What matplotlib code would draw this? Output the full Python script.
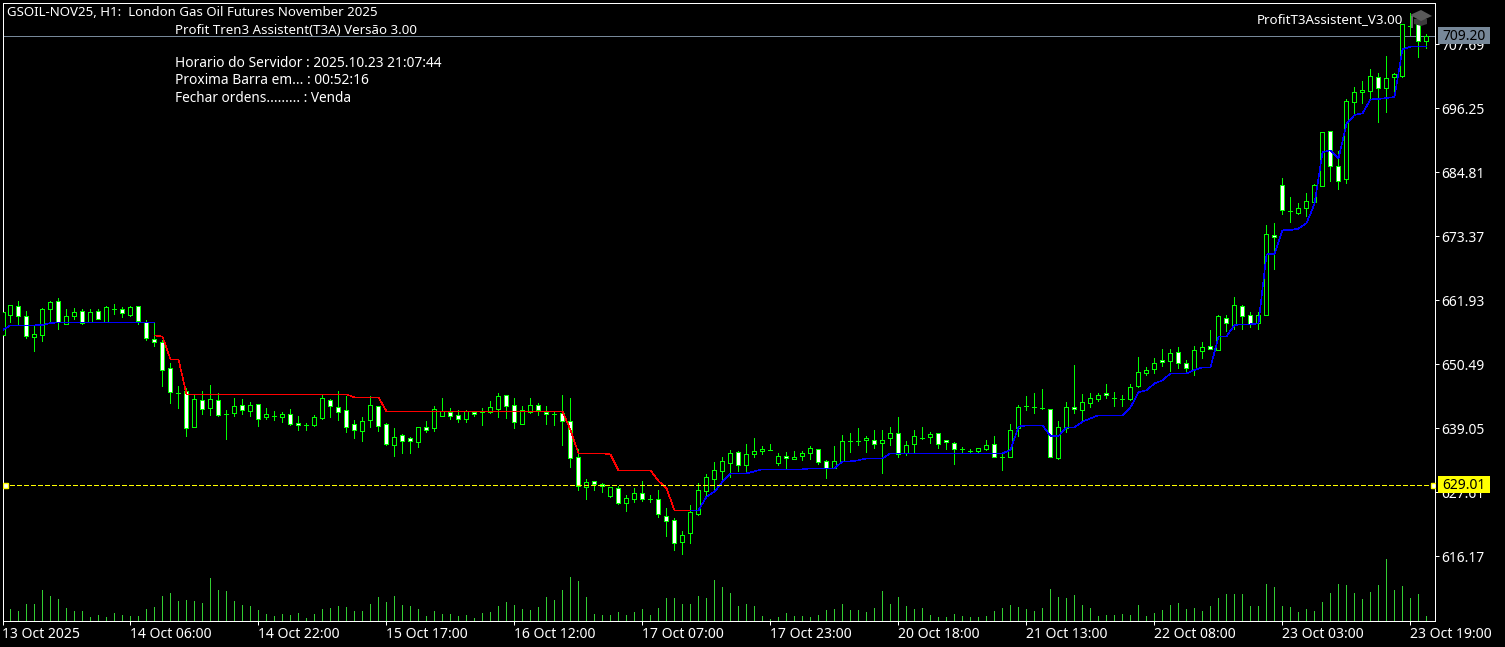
import matplotlib
matplotlib.use("Agg")
import matplotlib.pyplot as plt
from matplotlib.patches import Polygon, Rectangle
from matplotlib.transforms import Affine2D, IdentityTransform
import numpy as np

W, H = 1505, 647
PX = 0.72  # one pixel in points at dpi 100
FONT = "Noto Sans"

opens = [655.75,659.38,660.87,659.09,655.45,655.81,660.46,661.77,657.77,659.09,
         659.98,658.13,659.98,658.01,660.43,660.34,659.38,660.87,658.01,655.09,
         654.44,649.79,645.41,645.68,639.36,644.07,642.76,644.07,641.66,641.87,
         643.17,642.10,643.35,641.03,641.30,641.03,641.57,639.96,639.63,639.60,
         640.85,644.07,642.82,642.28,639.78,638.53,640.49,642.99,639.78,636.02,
         637.81,637.28,636.56,639.24,639.06,641.21,641.92,641.39,640.67,642.04,
         641.95,641.92,642.46,644.96,643.17,639.90,641.92,643.17,641.92,641.65,
         641.74,640.31,633.88,628.52,629.59,629.05,626.91,628.34,625.66,626.37,
         627.44,626.46,626.37,623.33,622.62,618.68,620.29,623.69,627.80,629.95,
         631.38,632.81,634.78,632.45,634.42,634.95,635.25,632.81,634.06,633.53,
         634.06,634.60,635.31,633.17,631.92,633.17,636.83,636.86,636.92,636.92,
         636.38,637.28,638.17,634.72,636.21,637.40,637.46,638.17,636.92,636.38,
         635.34,635.07,635.07,635.43,636.21,633.97,634.00,639.06,643.12,642.88,
         642.70,642.46,633.82,639.06,642.96,642.28,643.53,644.25,645.32,644.49,
         644.31,644.25,646.57,648.89,649.61,651.22,651.04,652.65,650.68,649.61,
         652.83,653.72,653.01,658.73,657.47,660.88,659.27,657.84,659.27,673.57,
         682.50,677.86,677.50,678.39,679.47,682.32,692.16,685.90,683.58,697.34,
         699.13,699.31,701.81,699.84,701.81,702.11,710.92,711.28,708.24]

highs = [659.80,661.05,661.77,659.98,657.42,660.52,661.77,662.30,660.34,660.52,
         660.34,660.34,660.34,660.87,661.29,660.69,660.87,660.87,658.37,657.95,
         654.80,650.68,646.57,646.22,644.97,645.68,646.75,645.32,642.28,644.43,
         644.25,643.71,643.35,642.64,642.10,641.92,642.46,641.21,639.96,641.39,
         644.96,644.25,645.68,644.78,640.49,641.03,644.78,642.99,639.96,639.06,
         637.99,637.46,639.24,640.31,642.99,644.43,642.64,642.28,642.28,642.10,
         642.64,643.89,645.32,644.96,644.42,642.99,644.42,643.53,642.99,641.92,
         644.96,644.42,635.31,629.95,629.59,629.23,628.52,628.69,627.09,628.34,
         629.59,627.09,627.98,624.76,622.97,620.65,625.30,629.23,630.84,632.98,
         633.88,635.13,634.95,636.21,637.28,635.85,636.21,634.60,634.78,634.95,
         634.95,635.85,635.31,633.35,635.85,637.81,638.17,639.07,637.64,638.71,
         638.71,639.24,641.03,636.74,638.71,639.24,638.35,638.17,636.92,636.56,
         635.79,635.43,635.61,637.04,637.75,634.89,639.90,643.18,644.78,645.32,
         646.04,642.46,640.32,643.71,650.32,645.14,645.32,645.32,646.93,645.50,
         644.96,646.93,651.76,649.97,651.58,653.19,653.19,653.54,651.22,653.72,
         654.44,656.58,659.26,659.26,662.48,661.06,659.80,659.80,675.35,675.71,
         683.75,680.36,679.29,681.07,682.68,691.98,692.16,688.58,697.87,700.02,
         701.09,703.24,702.52,705.56,702.52,711.28,713.25,711.82,709.49]

lows = [655.75,658.13,657.77,655.27,652.95,654.74,657.95,656.88,657.77,658.67,
        657.77,658.01,658.55,658.01,659.56,659.03,659.20,657.77,654.92,653.84,
        646.69,643.65,642.76,637.76,639.36,641.69,641.51,641.33,637.22,641.33,
        641.68,641.33,639.54,640.67,640.61,640.25,639.66,638.83,638.83,639.54,
        640.79,641.15,640.61,638.47,637.40,636.86,639.36,638.65,636.14,634.18,
        634.71,634.71,635.79,638.47,638.65,641.21,640.79,640.25,640.25,641.33,
        639.72,641.86,641.15,640.97,639.18,639.90,641.86,641.50,639.90,639.72,
        636.14,632.21,628.10,626.49,628.10,627.74,626.85,625.60,624.34,625.95,
        626.13,625.95,623.27,619.88,617.37,616.66,618.63,623.63,627.03,627.98,
        629.59,630.31,631.50,631.50,633.88,634.42,635.19,632.45,631.92,633.53,
        633.47,633.53,632.63,630.19,631.92,633.11,634.90,636.15,634.90,635.61,
        631.14,636.03,634.00,634.36,634.60,637.10,636.38,635.61,635.31,632.75,
        634.72,634.72,634.89,635.25,634.00,631.62,634.00,637.75,642.40,641.86,
        642.58,634.00,633.64,638.35,641.86,640.43,642.94,644.01,644.55,643.12,
        643.12,644.07,646.51,648.66,649.01,650.27,649.37,649.91,649.37,648.66,
        651.70,653.19,653.01,656.46,656.76,656.88,657.24,656.88,659.27,667.49,
        677.32,676.01,677.32,676.96,679.29,682.32,683.22,681.79,682.86,695.13,
        697.16,697.87,693.76,695.55,698.95,701.81,709.31,705.38,706.99]

closes = [659.80,661.05,659.20,655.63,655.99,660.34,661.59,658.01,659.09,659.80,
          657.95,659.80,658.67,660.69,660.43,659.62,660.69,658.19,655.27,654.56,
          649.43,645.50,645.41,639.19,644.25,642.46,644.25,641.51,641.66,643.00,
          642.28,643.17,640.67,641.57,641.30,641.57,639.78,639.60,639.63,641.03,
          644.43,642.99,641.92,639.36,638.71,640.31,643.17,639.42,636.20,637.46,
          636.86,636.74,639.24,638.71,642.46,642.10,641.21,640.67,642.10,641.57,
          641.95,642.81,644.78,642.99,640.13,642.28,643.17,642.28,641.56,641.65,
          640.31,633.70,628.69,629.41,629.05,628.69,628.52,625.66,626.55,627.44,
          626.37,626.46,623.69,622.44,618.51,619.94,624.05,627.98,630.30,631.55,
          633.17,634.60,632.45,634.42,634.95,635.31,635.25,634.06,633.70,633.88,
          634.60,635.49,632.99,631.92,633.17,636.74,636.83,636.86,637.28,636.21,
          636.92,638.17,634.42,636.03,637.64,637.40,637.99,636.21,636.56,635.31,
          635.34,635.07,635.61,636.15,634.00,633.97,638.83,642.96,643.12,642.88,
          642.70,634.00,639.24,642.82,642.46,643.71,644.43,644.96,644.96,644.49,
          644.31,646.39,649.07,649.43,650.68,650.86,652.47,650.68,649.79,653.01,
          653.54,653.19,659.08,657.83,661.05,659.09,657.66,659.27,673.75,673.21,
          678.03,677.86,678.39,679.64,682.50,691.98,685.90,683.22,697.52,699.13,
          699.48,701.99,699.84,701.63,702.34,711.28,710.92,708.24,709.20]

volumes = [40,34,28,49,49,91,73,64,37,28,28,10,16,10,22,16,13,13,34,40,
           73,82,58,61,58,52,127,91,88,58,46,43,31,19,13,19,16,22,7,19,
           34,37,43,40,28,28,49,70,55,73,46,43,34,13,28,19,19,13,16,7,
           22,25,43,55,46,34,31,40,70,61,91,130,118,70,19,16,16,25,16,25,
           34,16,37,67,67,49,49,73,67,121,100,82,43,49,43,13,4,10,22,13,
           13,10,16,31,34,49,31,31,25,37,88,49,70,43,34,37,16,10,10,19,
           13,10,10,13,28,37,46,40,34,28,37,94,70,67,76,46,37,13,16,16,
           19,16,46,13,22,31,46,52,34,37,28,43,67,79,79,79,43,43,109,100,
           43,40,25,34,28,55,82,109,106,82,64,85,106,184,91,103,67,79,13]

# T3 trend line, blue while rising, red while falling
t3_blue_start = [656.64,657.48,657.48,657.48,657.48,657.54,657.89,658.01,658.01,658.01,
                 658.01,658.01,658.01,658.01,658.01,658.01,658.01,658.01,658.01,658.01]
t3_red = [655.69,655.45,651.40,651.40,645.14,645.14,645.14,645.14,645.14,645.14,645.14,
          645.14,645.14,645.14,645.14,645.14,645.14,645.14,645.14,645.14,645.14,645.14,
          645.14,645.14,645.14,644.60,644.60,644.60,644.60,642.10,642.10,642.10,642.10,
          642.10,642.10,642.10,642.10,642.10,642.10,642.10,642.10,642.10,642.10,642.10,
          642.10,642.10,642.10,642.10,642.10,642.10,642.10,642.10,638.76,634.59,634.59,
          634.59,634.59,634.41,631.55,631.55,631.55,631.55,631.55,629.65,628.34,624.40,
          624.40,624.40]
t3_blue_end = [624.40,624.40,626.85,627.74,629.53,631.02,631.02,631.02,631.38,631.74,
               631.74,631.74,631.74,631.74,631.74,631.92,631.92,631.92,631.92,633.17,
               633.17,633.35,633.70,633.70,633.70,634.60,634.60,634.60,634.60,634.60,
               634.60,634.60,634.60,634.60,634.60,634.60,634.60,634.60,634.60,634.60,
               635.19,639.36,639.60,639.60,639.60,637.69,637.69,639.24,639.24,640.26,
               640.85,641.39,641.39,641.39,641.39,642.82,645.50,645.86,647.11,647.64,
               648.89,648.89,648.89,649.49,649.97,649.97,655.45,655.51,657.53,657.66,
               657.66,657.84,670.17,670.23,674.46,674.52,674.76,675.71,679.17,688.40,
               688.76,687.33,693.47,695.07,695.37,697.87,697.93,698.11,698.29,706.81,
               707.29,707.35,707.35]

price_ticks = [707.69, 696.25, 684.81, 673.37, 661.93, 650.49, 639.05, 627.61, 616.17]
time_labels = ["13 Oct 2025", "14 Oct 06:00", "14 Oct 22:00", "15 Oct 17:00",
               "16 Oct 12:00", "17 Oct 07:00", "17 Oct 23:00", "20 Oct 18:00",
               "21 Oct 13:00", "22 Oct 08:00", "23 Oct 03:00", "23 Oct 19:00"]
last_price = 709.20
level_price = 629.01

plt.rcParams["font.family"] = FONT

fig = plt.figure(figsize=(W / 100, H / 100), dpi=100, facecolor="black")
pos = [2.5 / W, (H - 620.5) / H, 1433 / W, 618 / H]

# volume sits on its own axes under the price axes
ax_vol = fig.add_axes(pos, facecolor="black", zorder=1)
ax = fig.add_axes(pos, facecolor="none", zorder=2)

idx = np.arange(len(opens))
xlim = (0, 179.125)

ax_vol.vlines(idx, 0, volumes, color="#32cd32", linewidth=PX, antialiased=False)
ax_vol.set_xlim(*xlim)
ax_vol.set_ylim(0, 1854)
ax_vol.axis("off")

o = np.array(opens)
c = np.array(closes)
ax.vlines(idx, lows, highs, color="lime", linewidth=PX, antialiased=False, zorder=2)
ax.bar(idx, np.abs(c - o), bottom=np.minimum(o, c), width=0.5,
       color=["white" if a < b else "black" for a, b in zip(c, o)],
       edgecolor="lime", linewidth=PX, antialiased=False, zorder=3)

# thinner than one pixel, otherwise the aliased line comes out two pixels wide
T3_LW = 0.4
ax.plot(idx[:20], t3_blue_start, color="blue", linewidth=T3_LW, antialiased=False, zorder=4)
ax.plot(idx[19:87], t3_red, color="red", linewidth=T3_LW, antialiased=False, zorder=4)
ax.plot(idx[86:], t3_blue_end, color="blue", linewidth=T3_LW, antialiased=False, zorder=4)

ax.axhline(last_price, color="#778899", linewidth=PX, antialiased=False, zorder=1)
level = ax.axhline(level_price, color="#ffff00", linewidth=1.0, linestyle=(0, (3, 1.5)),
                   antialiased=False, zorder=5)
level.set_snap(True)
ax.plot([0.002, 0.998], [level_price, level_price], linestyle="none", marker="s",
        markersize=3.6, markerfacecolor="white", markeredgecolor="#ffff00",
        markeredgewidth=1.0, transform=ax.get_yaxis_transform(), zorder=6)

ax.set_xlim(*xlim)
ax.set_ylim(604.72, 715.18)
ax.yaxis.tick_right()
ax.set_yticks(price_ticks)
ax.set_yticklabels(["%.2f" % p for p in price_ticks])
ax.set_xticks(np.arange(0, 177, 16))
ax.set_xticklabels(time_labels, ha="left")
ax.tick_params(axis="both", colors="white", width=PX, length=3, labelsize=10)
ax.tick_params(axis="x", pad=2, labelsize=10.1)
ax.tick_params(axis="y", pad=1)
for s in ax.spines.values():
    s.set_color("white")
    s.set_linewidth(PX)

# price tags in the right margin, they partly cover the tick label below them
for price, bg in [(last_price, "#778899"), (level_price, "#ffff00")]:
    y_disp = ax.transData.transform((0, price))[1]
    fig.add_artist(Rectangle((1438, y_disp - 8.5), 52, 17, facecolor=bg, edgecolor="none",
                             transform=IdentityTransform(), zorder=15))
    fig.text(1442 / W, (y_disp - 0.5) / H, "%.2f" % price, color="black", fontsize=10,
             ha="left", va="center", zorder=16)

def label(x, y, text, size, ha="left"):
    fig.text(x / W, 1 - y / H, text, color="white", fontsize=size, ha=ha, va="center",
             zorder=20)

label(7, 12, "GSOIL-NOV25, H1:  London Gas Oil Futures November 2025", 9.55)
label(175, 30, "Profit Tren3 Assistent(T3A) Versão 3.00", 9.55)
label(175, 63.5, "Horario do Servidor : 2025.10.23 21:07:44", 9.9)
label(175, 81, "Proxima Barra em... : 00:52:16", 9.9)
label(175, 98.5, "Fechar ordens......... : Venda", 9.8)
label(1403, 19.5, "ProfitT3Assistent_V3.00", 9.6, ha="right")

# graduation cap icon
to_px = Affine2D().scale(1, -1).translate(0, H)
cap_base = [(1414, 19), (1427, 19), (1427, 24), (1421, 26), (1414, 24)]
cap_top = [(1410, 15), (1421, 10), (1432, 16), (1421, 21)]
tassel = [(1411, 16), (1413, 16), (1413, 28), (1411, 28)]
for pts, col in [(cap_base, "#3c3c3c"), (cap_top, "#5a5a5a"), (tassel, "#6a6a6a")]:
    fig.add_artist(Polygon(pts, closed=True, facecolor=col, edgecolor="none",
                           transform=to_px, zorder=21))

fig.savefig("out.png", dpi=100, facecolor="black")
plt.close(fig)
